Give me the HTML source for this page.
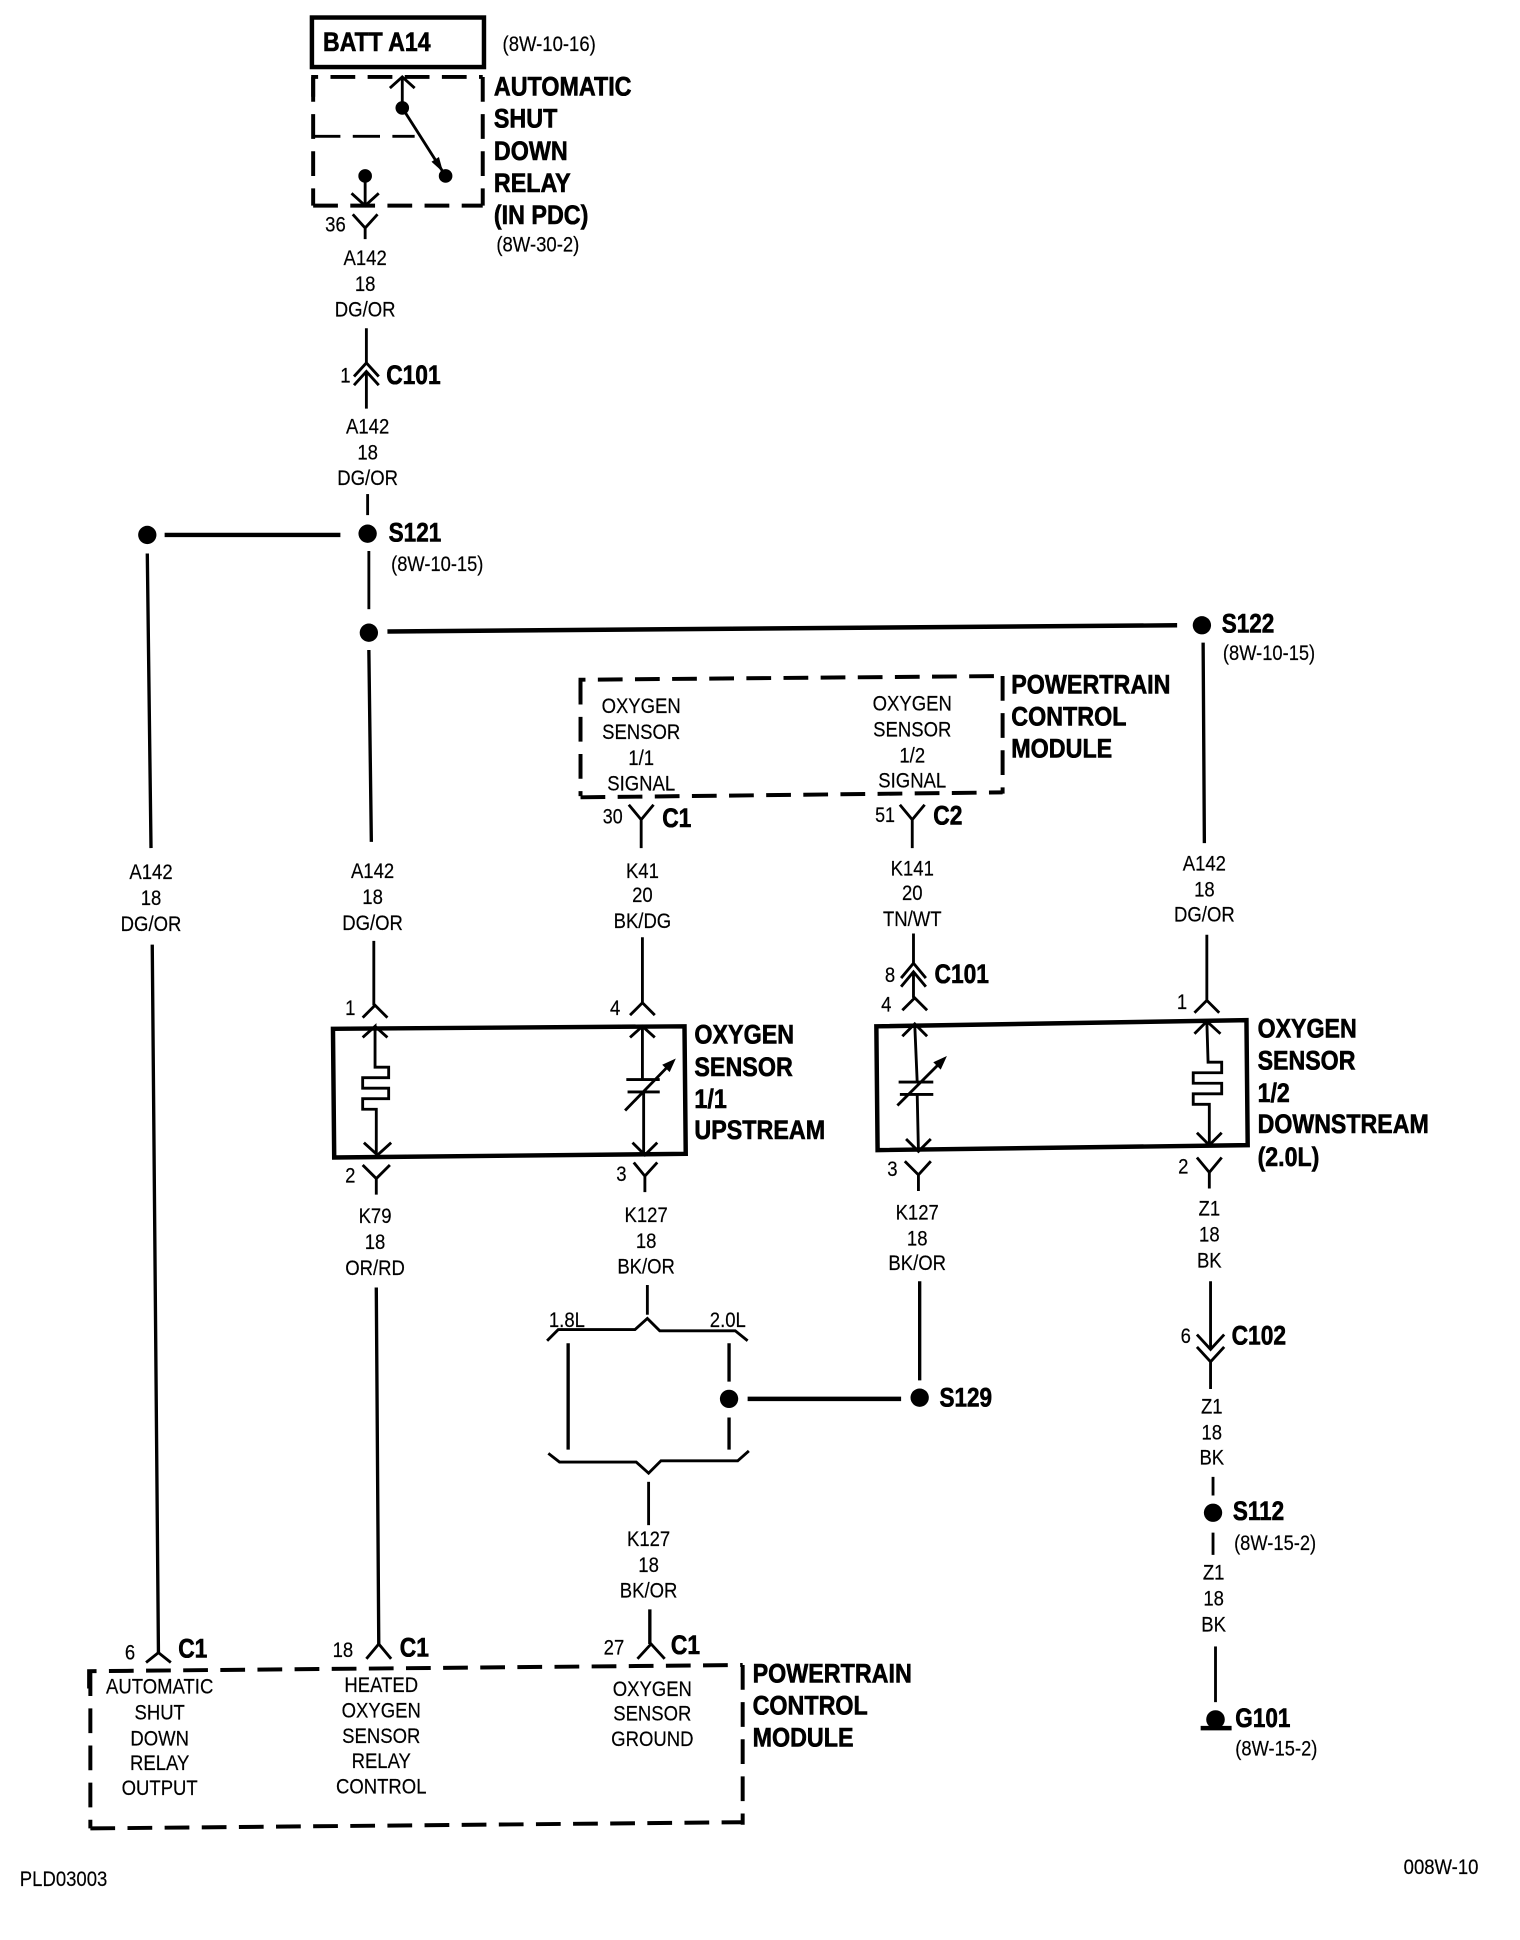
<!DOCTYPE html>
<html><head><meta charset="utf-8"><title>Diagram</title>
<style>
html,body{margin:0;padding:0;background:#fff}
svg{display:block}
text{font-family:"Liberation Sans",sans-serif;fill:#000}
.c{font-size:17px;text-anchor:middle;stroke:#000;stroke-width:.15px}
.n{font-size:17px;stroke:#000;stroke-width:.15px}
.b{font-size:21.4px;font-weight:bold;stroke:#000;stroke-width:.5px}
.l{fill:none;stroke:#000;stroke-width:2.3}
.h{fill:none;stroke:#000;stroke-width:3.6}
.d{fill:none;stroke:#000;stroke-width:3.2;stroke-dasharray:20 10}
</style></head><body>
<svg xmlns="http://www.w3.org/2000/svg" width="1520" height="1940" viewBox="0 0 1228 1567">
<rect width="1228" height="1567" fill="#fff"/>

<!-- top -->
<rect class="h" x="252" y="14" width="139" height="40"/>
<text class="b" transform="translate(261,41) scale(.87 1)">BATT A14</text>
<text class="n" transform="translate(406,41) scale(.88 1)">(8W-10-16)</text>
<path class="d" d="M253,78V62H390"/><path class="d" d="M390,62V166"/><path class="d" d="M253,62V166"/><path class="d" d="M253,166H390"/>
<path class="l" style="stroke-dasharray:22 10" d="M253,110H335"/>
<path class="l" d="M325,62V87M315,71L325,62L335,71M325,87L360,142"/>
<circle cx="325" cy="87" r="5.5"/><circle cx="360" cy="142" r="5.5"/>
<path d="M358,139L354.600,126.700L348.600,130.500Z"/>
<circle cx="295" cy="142" r="5.5"/>
<path class="l" d="M295,142V166M284,156L295,166L306,156"/>
<path class="l" d="M285,173L295,184L305,173M295,184V193"/>
<text class="c" transform="translate(271,187) scale(.88 1)">36</text>
<text class="b" transform="translate(399,77) scale(.88 1)">AUTOMATIC</text>
<text class="b" transform="translate(399,103) scale(.88 1)">SHUT</text>
<text class="b" transform="translate(399,129) scale(.88 1)">DOWN</text>
<text class="b" transform="translate(399,155) scale(.88 1)">RELAY</text>
<text class="b" transform="translate(399,181) scale(.88 1)">(IN PDC)</text>
<text class="n" transform="translate(401,203) scale(.88 1)">(8W-30-2)</text>

<text class="c" transform="translate(295,214) scale(.88 1)">A142</text>
<text class="c" transform="translate(295,235) scale(.88 1)">18</text>
<text class="c" transform="translate(295,255.500) scale(.88 1)">DG/OR</text>
<path class="l" d="M296,265V293M286,304L296,293L306,304M286,311L296,300L306,311M296,300V330"/>
<text class="c" transform="translate(279,309) scale(.88 1)">1</text>
<text class="b" transform="translate(312,310) scale(.86 1)">C101</text>
<text class="c" transform="translate(297,350) scale(.88 1)">A142</text>
<text class="c" transform="translate(297,371) scale(.88 1)">18</text>
<text class="c" transform="translate(297,391.500) scale(.88 1)">DG/OR</text>
<path class="l" d="M297,399V416"/>
<circle cx="297" cy="431" r="7.4"/><circle cx="119" cy="432" r="7.4"/>
<path class="h" d="M133,432H275"/>
<text class="b" transform="translate(314,437.500) scale(.85 1)">S121</text>
<text class="n" transform="translate(316,461) scale(.87 1)">(8W-10-15)</text>
<path class="l" d="M298,445V492"/>
<circle cx="298" cy="511" r="7.4"/>
<path class="h" d="M313,510L951,505"/>
<circle cx="971" cy="505" r="7.4"/>
<text class="b" transform="translate(987,511) scale(.85 1)">S122</text>
<text class="n" transform="translate(988,533) scale(.87 1)">(8W-10-15)</text>
<path class="l" style="stroke-width:2.7" d="M298,525L300,680M119,447L122,685M972,519L973,681"/>

<text class="c" transform="translate(122,710) scale(.88 1)">A142</text>
<text class="c" transform="translate(122,731) scale(.88 1)">18</text>
<text class="c" transform="translate(122,752) scale(.88 1)">DG/OR</text>
<text class="c" transform="translate(301,709) scale(.88 1)">A142</text>
<text class="c" transform="translate(301,730) scale(.88 1)">18</text>
<text class="c" transform="translate(301,751) scale(.88 1)">DG/OR</text>
<text class="c" transform="translate(973,703) scale(.88 1)">A142</text>
<text class="c" transform="translate(973,724) scale(.88 1)">18</text>
<text class="c" transform="translate(973,744.500) scale(.88 1)">DG/OR</text>

<!-- PCM top -->
<path class="d" d="M469,565V549L810,546"/><path class="d" d="M810,546V641"/><path class="d" d="M469,549V643"/><path class="d" d="M469,644L810,640"/>
<text class="c" transform="translate(518,576) scale(.88 1)">OXYGEN</text>
<text class="c" transform="translate(518,597) scale(.88 1)">SENSOR</text>
<text class="c" transform="translate(518,618) scale(.88 1)">1/1</text>
<text class="c" transform="translate(518,638.500) scale(.88 1)">SIGNAL</text>
<text class="c" transform="translate(737,574) scale(.88 1)">OXYGEN</text>
<text class="c" transform="translate(737,595) scale(.88 1)">SENSOR</text>
<text class="c" transform="translate(737,616) scale(.88 1)">1/2</text>
<text class="c" transform="translate(737,636) scale(.88 1)">SIGNAL</text>
<text class="b" transform="translate(817,560) scale(.88 1)">POWERTRAIN</text>
<text class="b" transform="translate(817,586) scale(.88 1)">CONTROL</text>
<text class="b" transform="translate(817,612) scale(.88 1)">MODULE</text>
<path class="l" d="M508,650L518,662L528,650M518,662V685M727,650L737,662L747,650M737,662V685"/>
<text class="c" transform="translate(495,665) scale(.85 1)">30</text>
<text class="b" transform="translate(535,668) scale(.86 1)">C1</text>
<text class="c" transform="translate(715,664) scale(.85 1)">51</text>
<text class="b" transform="translate(754,666) scale(.86 1)">C2</text>
<text class="c" transform="translate(519,709) scale(.88 1)">K41</text>
<text class="c" transform="translate(519,728.500) scale(.88 1)">20</text>
<text class="c" transform="translate(519,749.500) scale(.88 1)">BK/DG</text>
<text class="c" transform="translate(737,707) scale(.88 1)">K141</text>
<text class="c" transform="translate(737,727) scale(.88 1)">20</text>
<text class="c" transform="translate(737,748) scale(.88 1)">TN/WT</text>

<!-- sensor 1 -->
<path class="l" d="M302,760V812M293,822L303,812L313,822M519,757V810M509,820L519,810L529,820"/>
<text class="c" transform="translate(283,820) scale(.88 1)">1</text>
<text class="c" transform="translate(497,820) scale(.88 1)">4</text>
<path class="h" d="M269,831L553,829L554,932L270,935Z"/>
<path class="l" d="M293,838L303,829V862H314V870.5H293V879H314V887.5H293V896H304V933M313,838L303,829M294,923L305,933L316,923"/>
<path class="l" d="M509,838L519,829L529,838M519,829V872M506,872H533M507,882H533M520,882V933M511,923L521,933L531,923M505,897L541,860"/>
<path d="M546,855L535,860L541,866Z"/>
<path class="l" d="M293,941L304,952L315,941M304,952V965M512,939L521,950L531,939M521,950V963"/>
<text class="c" transform="translate(283,955) scale(.88 1)">2</text>
<text class="c" transform="translate(502,954) scale(.88 1)">3</text>
<text class="b" transform="translate(561,843) scale(.88 1)">OXYGEN</text>
<text class="b" transform="translate(561,869) scale(.88 1)">SENSOR</text>
<text class="b" transform="translate(561,895) scale(.88 1)">1/1</text>
<text class="b" transform="translate(561,920) scale(.88 1)">UPSTREAM</text>
<text class="c" transform="translate(303,988) scale(.88 1)">K79</text>
<text class="c" transform="translate(303,1009) scale(.88 1)">18</text>
<text class="c" transform="translate(303,1030) scale(.88 1)">OR/RD</text>
<text class="c" transform="translate(522,987) scale(.88 1)">K127</text>
<text class="c" transform="translate(522,1008) scale(.88 1)">18</text>
<text class="c" transform="translate(522,1028.500) scale(.88 1)">BK/OR</text>

<!-- sensor 2 -->
<path class="l" d="M738,754V778M728,790L738,778L748,790M728,797L738,785L748,797M738,785V806M729,816L739,806L749,816"/>
<text class="c" transform="translate(719,793) scale(.88 1)">8</text>
<text class="b" transform="translate(755,794) scale(.86 1)">C101</text>
<text class="c" transform="translate(716,817) scale(.88 1)">4</text>
<path class="l" d="M975,755V808M965,818L975,808L985,818"/>
<text class="c" transform="translate(955,815) scale(.88 1)">1</text>
<path class="h" d="M708,829L1007,824L1008,925L709,929Z"/>
<path class="l" d="M729,837L739,827L749,837M739,827L741,874M726,874H754M727,884H754M741,884L742,930M732,920L742,930L752,920M725,893L760,858"/>
<path d="M765,853L754,858L760,864Z"/>
<path class="l" d="M965,835L975,825L986,835M975,825L976,858H987V866.5H964V875H987V883.5H964V892H977V925M967,915L977,925L987,915"/>
<path class="l" d="M731,938L742,949L752,938M742,949V962M967,935L977,947L987,935M977,947V960"/>
<text class="c" transform="translate(721,950) scale(.88 1)">3</text>
<text class="c" transform="translate(956,948) scale(.88 1)">2</text>
<text class="b" transform="translate(1016,838) scale(.875 1)">OXYGEN</text>
<text class="b" transform="translate(1016,864) scale(.875 1)">SENSOR</text>
<text class="b" transform="translate(1016,890) scale(.875 1)">1/2</text>
<text class="b" transform="translate(1016,915) scale(.875 1)">DOWNSTREAM</text>
<text class="b" transform="translate(1016,942) scale(.875 1)">(2.0L)</text>
<text class="c" transform="translate(741,985) scale(.88 1)">K127</text>
<text class="c" transform="translate(741,1006) scale(.88 1)">18</text>
<text class="c" transform="translate(741,1026) scale(.88 1)">BK/OR</text>
<text class="c" transform="translate(977,982) scale(.88 1)">Z1</text>
<text class="c" transform="translate(977,1003) scale(.88 1)">18</text>
<text class="c" transform="translate(977,1024) scale(.88 1)">BK</text>

<!-- brace -->
<path class="l" d="M523,1038V1062"/>
<path class="l" d="M442,1083L451,1074H513L523,1065L533,1075H594L604,1083"/>
<text class="c" transform="translate(458,1072) scale(.88 1)">1.8L</text>
<text class="c" transform="translate(588,1072) scale(.88 1)">2.0L</text>
<path class="l" style="stroke-width:2.7" d="M459,1085V1171M589,1085V1116M589,1145V1171M743,1035V1115"/>
<circle cx="589" cy="1130" r="7.4"/><circle cx="743" cy="1129" r="7.4"/>
<path class="h" d="M604,1130H728"/>
<text class="b" transform="translate(759,1136) scale(.85 1)">S129</text>
<path class="l" d="M443,1174L452,1181H514L524,1190L534,1180H596L605,1172"/>
<path class="l" d="M524,1197V1232"/>
<text class="c" transform="translate(524,1249) scale(.88 1)">K127</text>
<text class="c" transform="translate(524,1270) scale(.88 1)">18</text>
<text class="c" transform="translate(524,1290.500) scale(.88 1)">BK/OR</text>

<!-- right column -->
<path class="l" d="M978,1035V1090M967,1078L978,1090L989,1078M967,1088L978,1100L989,1088M978,1100V1122"/>
<text class="c" transform="translate(958,1085) scale(.88 1)">6</text>
<text class="b" transform="translate(995,1086) scale(.86 1)">C102</text>
<text class="c" transform="translate(979,1142) scale(.88 1)">Z1</text>
<text class="c" transform="translate(979,1163) scale(.88 1)">18</text>
<text class="c" transform="translate(979,1183) scale(.88 1)">BK</text>
<path class="l" d="M980,1193V1208M980,1238V1256"/>
<circle cx="980" cy="1222" r="7.4"/>
<text class="b" transform="translate(996,1228) scale(.85 1)">S112</text>
<text class="n" transform="translate(997,1252) scale(.87 1)">(8W-15-2)</text>
<text class="c" transform="translate(980.500,1276) scale(.88 1)">Z1</text>
<text class="c" transform="translate(980.500,1297) scale(.88 1)">18</text>
<text class="c" transform="translate(980.500,1318) scale(.88 1)">BK</text>
<path class="l" d="M982,1330V1375"/>
<circle cx="982" cy="1389" r="7.5"/>
<path class="h" d="M970,1396H995"/>
<text class="b" transform="translate(998,1395) scale(.85 1)">G101</text>
<text class="n" transform="translate(998,1418) scale(.87 1)">(8W-15-2)</text>

<!-- lower wires -->
<path class="l" style="stroke-width:2.7" d="M123,763L128,1335M304,1040L306,1328M525,1300V1328"/>
<path class="l" d="M118,1343L128,1335L138,1343M296,1340L306,1328L316,1340M515,1340L526,1328L537,1340"/>
<text class="c" transform="translate(105,1340.500) scale(.88 1)">6</text>
<text class="b" transform="translate(144,1339) scale(.86 1)">C1</text>
<text class="c" transform="translate(277,1338.500) scale(.88 1)">18</text>
<text class="b" transform="translate(323,1338) scale(.86 1)">C1</text>
<text class="c" transform="translate(496,1336.500) scale(.88 1)">27</text>
<text class="b" transform="translate(542,1336) scale(.86 1)">C1</text>

<!-- PCM bottom -->
<path class="d" d="M72,1364V1350L600,1345"/><path class="d" d="M600,1345V1474"/><path class="d" d="M73,1350V1477"/><path class="d" d="M73,1477L600,1472"/>
<text class="c" transform="translate(129,1368) scale(.88 1)">AUTOMATIC</text>
<text class="c" transform="translate(129,1389) scale(.88 1)">SHUT</text>
<text class="c" transform="translate(129,1410) scale(.88 1)">DOWN</text>
<text class="c" transform="translate(129,1430) scale(.88 1)">RELAY</text>
<text class="c" transform="translate(129,1450) scale(.88 1)">OUTPUT</text>
<text class="c" transform="translate(308,1367) scale(.88 1)">HEATED</text>
<text class="c" transform="translate(308,1387.500) scale(.88 1)">OXYGEN</text>
<text class="c" transform="translate(308,1408) scale(.88 1)">SENSOR</text>
<text class="c" transform="translate(308,1428) scale(.88 1)">RELAY</text>
<text class="c" transform="translate(308,1449) scale(.88 1)">CONTROL</text>
<text class="c" transform="translate(527,1370) scale(.88 1)">OXYGEN</text>
<text class="c" transform="translate(527,1390) scale(.88 1)">SENSOR</text>
<text class="c" transform="translate(527,1410.500) scale(.88 1)">GROUND</text>
<text class="b" transform="translate(608,1359) scale(.88 1)">POWERTRAIN</text>
<text class="b" transform="translate(608,1385) scale(.88 1)">CONTROL</text>
<text class="b" transform="translate(608,1411) scale(.88 1)">MODULE</text>

<text class="n" transform="translate(16,1523.500) scale(.88 1)">PLD03003</text>
<text class="n" transform="translate(1134,1514) scale(.88 1)">008W-10</text>
</svg>
</body></html>
